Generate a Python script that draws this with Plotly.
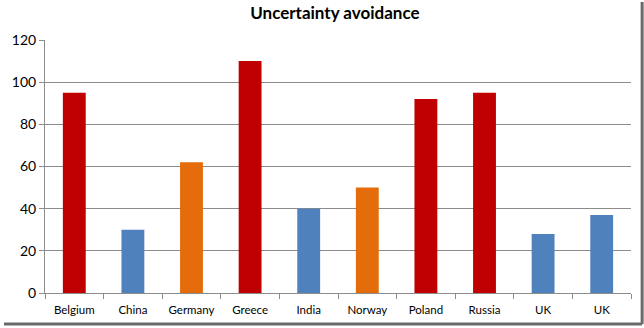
import plotly.graph_objects as go

categories = ["Belgium", "China", "Germany", "Greece", "India", "Norway", "Poland", "Russia", "UK", "UK"]
values = [95, 30, 62, 110, 40, 50, 92, 95, 28, 37]
bar_colors = ["#C00000", "#4F81BD", "#E46C0A", "#C00000", "#4F81BD",
              "#E46C0A", "#C00000", "#C00000", "#4F81BD", "#4F81BD"]
y_ticks = [0, 20, 40, 60, 80, 100, 120]

positions = list(range(len(categories)))

fig = go.Figure()
fig.add_trace(go.Bar(
    x=positions, y=values, marker_color=bar_colors, marker_line_width=0,
    width=0.39, showlegend=False, hoverinfo="skip",
))
# invisible trace to hold boundary tick axis
fig.add_trace(go.Scatter(x=[-0.5, len(categories) - 0.5], y=[0, 0], xaxis="x2",
                         mode="markers", marker_opacity=0, showlegend=False, hoverinfo="skip"))

font_family = "Lato, 'Open Sans', sans-serif"
fig.update_layout(
    width=644, height=328,
    margin=dict(l=41, r=13, t=40, b=35),
    paper_bgcolor="white", plot_bgcolor="white",
    title=dict(text="<b>Uncertainty avoidance</b>", x=0.52, xanchor="center",
               y=0.96, yanchor="middle",
               font=dict(family=font_family, size=17, color="#000000")),
    xaxis=dict(
        range=[-0.5, len(categories) - 0.5],
        tickvals=positions, ticktext=categories,
        ticks="", showgrid=False, zeroline=False,
        showline=True, linecolor="#8C8C8C", linewidth=1,
        tickfont=dict(family=font_family, size=11.5, color="#000000"),
        ticklabelstandoff=6,
    ),
    xaxis2=dict(
        overlaying="x", side="bottom", anchor="y",
        range=[-0.5, len(categories) - 0.5],
        tickvals=[i - 0.5 for i in range(len(categories) + 1)],
        showticklabels=False, ticks="outside", ticklen=5, tickcolor="#8C8C8C",
        showgrid=False, zeroline=False, showline=False,
    ),
    yaxis=dict(
        range=[0, 120], tickvals=y_ticks,
        showgrid=True, gridcolor="#8C8C8C", gridwidth=1,
        zeroline=False, showline=True, linecolor="#8C8C8C", linewidth=1,
        ticks="outside", ticklen=5, tickcolor="#8C8C8C",
        tickfont=dict(family=font_family, size=14, color="#000000"),
    ),
    shapes=[
        dict(type="line", xref="paper", yref="paper", x0=1.019, x1=1.019, y0=-0.123, y1=1.15,
             line=dict(color="#6A6A6A", width=3)),
        dict(type="line", xref="paper", yref="paper", x0=-0.07, x1=1.019, y0=-0.123, y1=-0.123,
             line=dict(color="#6A6A6A", width=3)),
    ],
)

fig.write_html("out.html")
